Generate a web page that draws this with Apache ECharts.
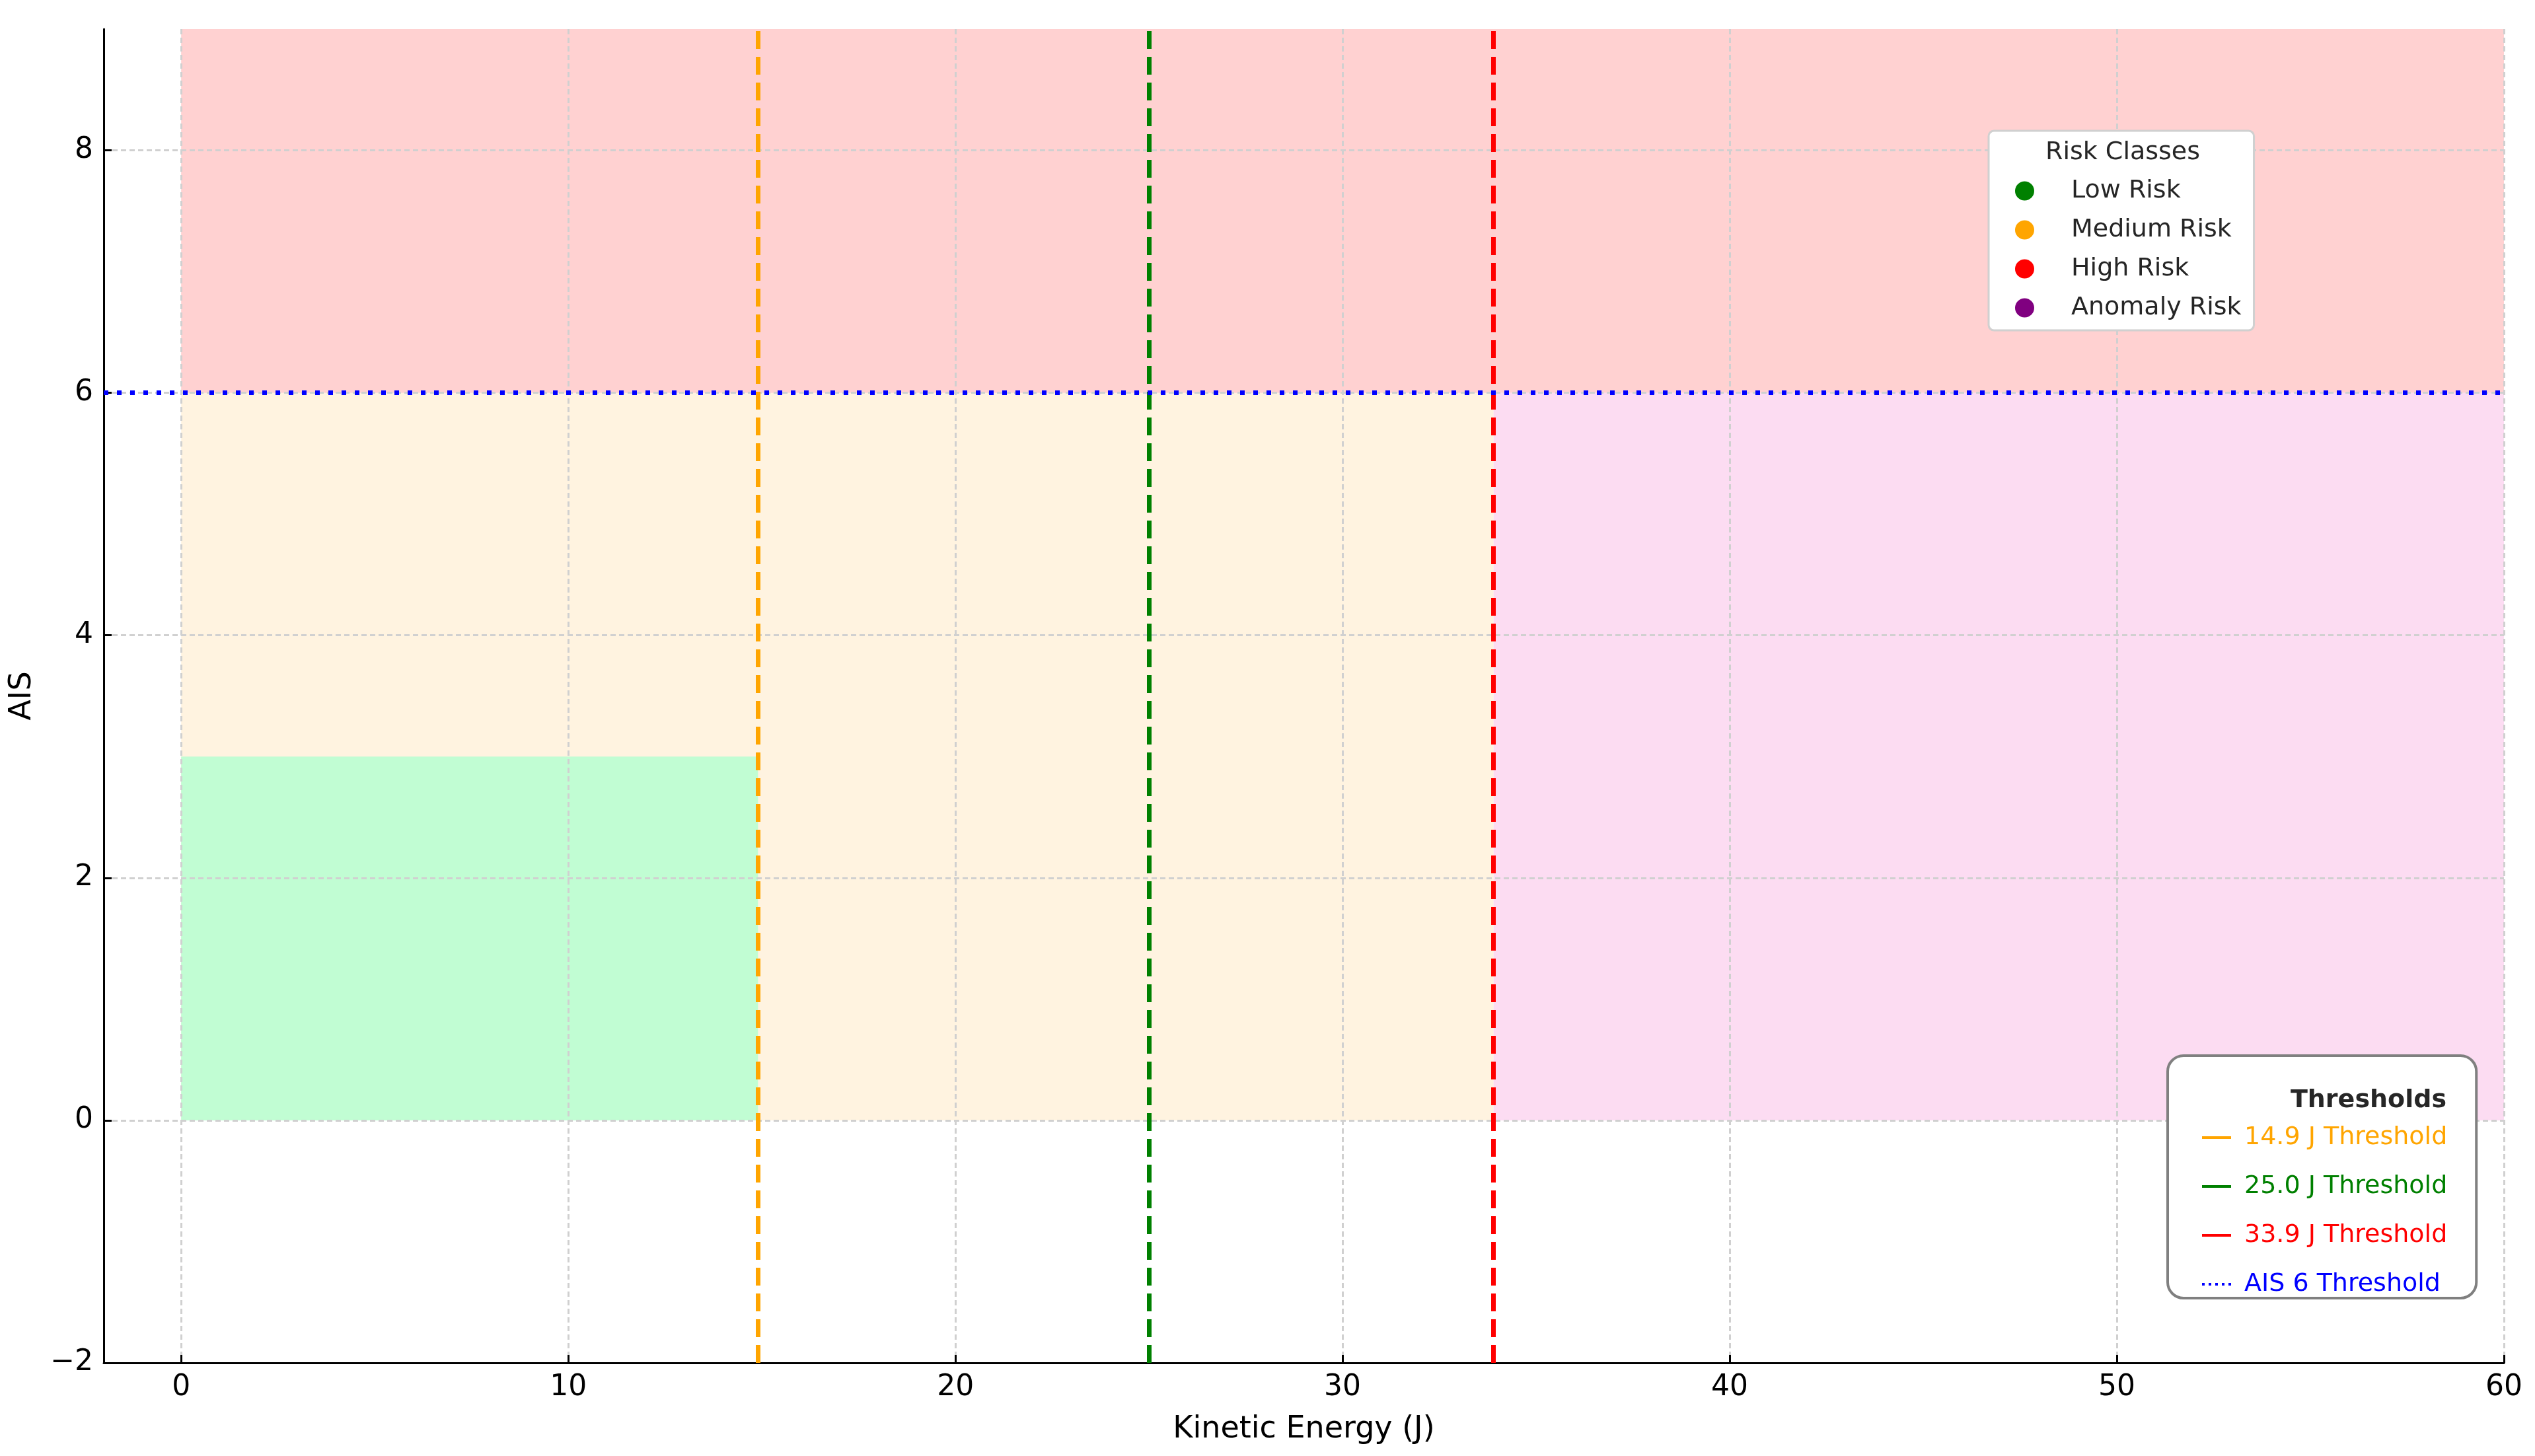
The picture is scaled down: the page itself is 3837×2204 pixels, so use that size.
<!DOCTYPE html>
<html>
<head>
<meta charset="utf-8">
<script src="https://cdn.jsdelivr.net/npm/echarts@6/dist/echarts.min.js"></script>
<style>
  html, body { margin: 0; padding: 0; background: #fff; }
  #chart { width: 3837px; height: 2204px; }
</style>
</head>
<body>
<div id="chart"></div>
<script>
const xTicks = [0, 10, 20, 30, 40, 50, 60]
const yTicks = [-2, 0, 2, 4, 6, 8]

// risk zones: [xFrom, xTo, yFrom, yTo]
const riskClasses = ['Low Risk', 'Medium Risk', 'High Risk', 'Anomaly Risk']
const riskColors = ['#008000', '#ffa500', '#ff0000', '#800080']
const riskFills = ['#c1fdd3', '#fff3e0', '#ffd1d1', '#fcdcf2']
const riskZones = [
  [0, 14.9, 0, 3],
  [0, 33.9, 0, 6],
  [0, 60, 6, 9],
  [33.9, 60, 0, 6],
]
// medium first so low sits on top of it
const drawOrder = [1, 0, 2, 3]

const energyThresholds = [14.9, 25.0, 33.9]
const energyColors = ['#ffa500', '#008000', '#ff0000']
const aisThreshold = 6

const FONT = 'DejaVu Sans'
const TEXT = '#262626'

const chart = echarts.init(document.getElementById('chart'), null, { renderer: 'canvas' })

const zoneSeries = drawOrder.map((i) => ({
  name: riskClasses[i],
  type: 'line',
  data: [],
  itemStyle: { color: riskColors[i] },
  markArea: {
    silent: true,
    z: 1,
    itemStyle: { color: riskFills[i], opacity: 1 },
    data: [[
      { xAxis: riskZones[i][0], yAxis: riskZones[i][2] },
      { xAxis: riskZones[i][1], yAxis: riskZones[i][3] },
    ]],
  },
}))

const thresholdNames = energyThresholds.map((v) => v.toFixed(1) + ' J Threshold')
const aisName = 'AIS ' + aisThreshold + ' Threshold'

const energySeries = energyThresholds.map((v, i) => ({
  name: thresholdNames[i],
  type: 'line',
  data: [],
  itemStyle: { color: energyColors[i] },
  lineStyle: { color: energyColors[i] },
  markLine: {
    silent: true,
    symbol: ['none', 'none'],
    label: { show: false },
    lineStyle: { color: energyColors[i], width: 7, type: [27, 12] },
    data: [{ xAxis: v }],
  },
}))

const aisSeries = {
  name: aisName,
  type: 'line',
  data: [],
  itemStyle: { color: '#0000ff' },
  lineStyle: { color: '#0000ff' },
  markLine: {
    silent: true,
    symbol: ['none', 'none'],
    label: { show: false },
    lineStyle: { color: '#0000ff', width: 7, type: [7, 13] },
    data: [{ yAxis: aisThreshold }],
  },
}

const minus = (v) => String(v).replace('-', '\u2212')

const axisCommon = {
  type: 'value',
  z: 3,
  axisLine: { show: true, onZero: false, lineStyle: { color: '#000', width: 3 } },
  axisTick: { show: true, inside: true, length: 12, lineStyle: { color: '#000', width: 3 } },
  splitLine: { show: true, lineStyle: { color: '#d0d0d0', width: 3, type: [8, 5] } },
  nameLocation: 'middle',
  nameTextStyle: { fontFamily: FONT, fontSize: 46, color: '#000' },
}

chart.setOption({
  animation: false,
  backgroundColor: '#fff',
  textStyle: { fontFamily: FONT },
  grid: { left: 157, right: 47, top: 44, bottom: 141 },
  title: [
    {
      text: 'Risk Classes',
      left: 3096,
      top: 212,
      padding: 0,
      textStyle: { fontFamily: FONT, fontSize: 38, fontWeight: 'normal', color: TEXT, lineHeight: 38 },
    },
    {
      text: 'Thresholds',
      right: 134,
      top: 1647,
      padding: 0,
      textStyle: { fontFamily: FONT, fontSize: 38, fontWeight: 'bold', color: TEXT, lineHeight: 38 },
    },
  ],
  legend: [
    {
      data: riskClasses.map((name) => ({ name, icon: 'circle' })),
      orient: 'vertical',
      left: 3010,
      top: 198,
      selectedMode: false,
      itemWidth: 29,
      itemHeight: 29,
      itemGap: 21,
      padding: [72, 19, 15, 40],
      backgroundColor: '#fff',
      borderColor: '#d0d0d0',
      borderWidth: 3,
      borderRadius: 8,
      textStyle: { fontFamily: FONT, fontSize: 38, lineHeight: 38, color: TEXT, padding: [0, 0, 0, 51] },
    },
    {
      data: thresholdNames.map((name, i) => ({
        name,
        icon: 'rect',
        textStyle: { color: energyColors[i] },
      })).concat([{
        name: aisName,
        icon: 'path://M0,0h4v4h-4z M10,0h4v4h-4z M20,0h4v4h-4z M30,0h4v4h-4z M40,0h4v4h-4z',
        textStyle: { color: '#0000ff' },
      }]),
      orient: 'vertical',
      left: 3281,
      top: 1598,
      selectedMode: false,
      itemWidth: 44,
      itemHeight: 4,
      itemGap: 36,
      padding: [105, 44, 2, 52],
      backgroundColor: '#fff',
      borderColor: '#808080',
      borderWidth: 4,
      borderRadius: 24,
      textStyle: { fontFamily: FONT, fontSize: 38, lineHeight: 38, padding: [0, 0, 0, 15] },
    },
  ],
  xAxis: {
    ...axisCommon,
    min: -2,
    max: 60,
    name: 'Kinetic Energy (J)',
    nameGap: 78,
    axisTick: { ...axisCommon.axisTick, customValues: xTicks },
    axisLabel: { customValues: xTicks, fontFamily: FONT, fontSize: 44, color: '#000', margin: 16, formatter: minus },
  },
  yAxis: {
    ...axisCommon,
    min: -2,
    max: 9,
    name: 'AIS',
    nameGap: 100,
    axisTick: { ...axisCommon.axisTick, customValues: yTicks },
    axisLabel: { customValues: yTicks, fontFamily: FONT, fontSize: 44, color: '#000', margin: 16, formatter: minus },
  },
  series: [...zoneSeries, ...energySeries, aisSeries],
})
</script>
</body>
</html>
